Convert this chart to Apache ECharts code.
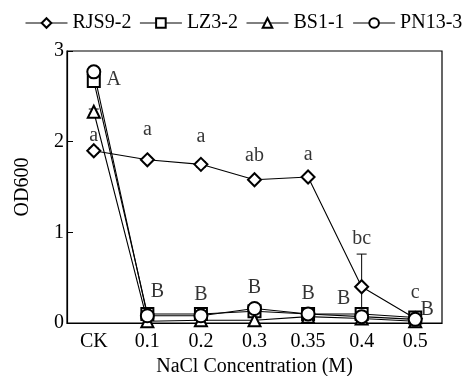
<!DOCTYPE html>
<html><head><meta charset="utf-8">
<script src="https://cdn.jsdelivr.net/npm/echarts@6/dist/echarts.min.js"></script>
<style>html,body{margin:0;padding:0;background:#fff}#c{width:471px;height:376px}</style>
</head><body><div id="c"></div>
<script>
const categories = ['CK','0.1','0.2','0.3','0.35','0.4','0.5'];
const seriesNames = ['RJS9-2','LZ3-2','BS1-1','PN13-3'];
const rjs = [1.90, 1.80, 1.75, 1.58, 1.61, 0.40, 0.05];
const lz = [2.67, 0.10, 0.10, 0.13, 0.10, 0.10, 0.06];
const bs = [2.33, 0.02, 0.03, 0.03, 0.07, 0.05, 0.02];
const pn = [2.77, 0.08, 0.08, 0.16, 0.10, 0.07, 0.04];
const rjsErr = [0.03, 0.02, 0.03, 0.02, 0.02, 0.36, 0.02];
const lzErr = [0.06, 0.03, 0.02, 0.03, 0.02, 0.02, 0.02];
const bsErr = [0.03, 0.02, 0.02, 0.03, 0.02, 0.02, 0.02];
const pnErr = [0.05, 0.03, 0.03, 0.03, 0.02, 0.02, 0.02];
const lowerLetters = ['a','a','a','ab','a','bc','c'];
const lowerLetterY = [2.06, 2.13, 2.05, 1.84, 1.86, 0.93, 0.33];
const upperLetters = ['A','B','B','B','B','B','B'];
const upperLetterY = [2.68, 0.34, 0.31, 0.39, 0.32, 0.27, 0.15];

const FONT = 'Liberation Serif';
const symbols = ['emptyDiamond','emptyRect','emptyTriangle','emptyCircle'];
const sizes = [13, 12, 12, 13];
const values = [rjs, lz, bs, pn];
const errs = [rjsErr, lzErr, bsErr, pnErr];
const txt = {fontFamily: FONT, fontSize: 20, color: '#000'};

const series = [];
values.forEach((v, i) => {
  series.push({
    name: seriesNames[i], type: 'line', data: v,
    symbol: symbols[i], symbolSize: sizes[i],
    lineStyle: {color: '#000', width: 1.1},
    itemStyle: {color: '#000', borderColor: '#000', borderWidth: 1.1},
    z: 3
  });
  series.push({
    type: 'custom', z: 2, silent: true,
    data: v.map((y, k) => [k, y - errs[i][k], y + errs[i][k]]),
    renderItem: (params, api) => {
      const x = api.value(0);
      const lo = api.coord([x, api.value(1)]);
      const hi = api.coord([x, api.value(2)]);
      const w = 5;
      return {type: 'group', children: [
        {type: 'line', shape: {x1: lo[0], y1: lo[1], x2: hi[0], y2: hi[1]}, style: {stroke: '#000', lineWidth: 1}},
        {type: 'line', shape: {x1: hi[0]-w, y1: hi[1], x2: hi[0]+w, y2: hi[1]}, style: {stroke: '#000', lineWidth: 1}},
        {type: 'line', shape: {x1: lo[0]-w, y1: lo[1], x2: lo[0]+w, y2: lo[1]}, style: {stroke: '#000', lineWidth: 1}}
      ]};
    }
  });
});
const upperOffsets = [[20,0],[10,0],[0,0],[0,0],[0,0],[-18,0],[12,0]];
series.push({
  type: 'scatter', symbolSize: 0, silent: true, z: 5,
  data: lowerLetterY.map((y, k) => ({value: [k, y], label: {formatter: lowerLetters[k]}})),
  label: Object.assign({show: true, position: 'inside'}, txt)
});
series.push({
  type: 'scatter', symbolSize: 0, silent: true, z: 5,
  data: upperLetterY.map((y, k) => ({value: [k, y], label: {formatter: upperLetters[k], offset: upperOffsets[k]}})),
  label: Object.assign({show: true, position: 'inside'}, txt)
});

const chart = echarts.init(document.getElementById('c'), null, {renderer: 'canvas'});
chart.setOption({
  animation: false,
  backgroundColor: '#fff',
  textStyle: {fontFamily: FONT, color: '#000'},
  legend: {
    data: seriesNames, orient: 'horizontal',
    top: 13, left: 25, width: 446, padding: 0, itemWidth: 42, itemHeight: 12, itemGap: 8,
    textStyle: txt,
    itemStyle: {borderWidth: 1},
    lineStyle: {width: 1}
  },
  grid: {left: 67, right: 29, top: 51, bottom: 53, show: true, borderColor: '#000', borderWidth: 1.2,
         backgroundColor: 'transparent', containLabel: false, outerBoundsMode: 'none'},
  xAxis: {
    type: 'category', data: categories, boundaryGap: true,
    name: 'NaCl Concentration (M)', nameLocation: 'middle', nameGap: 29,
    nameTextStyle: txt,
    axisLine: {lineStyle: {color: '#000', width: 1.2}},
    axisTick: {inside: true, length: 6, lineStyle: {color: '#000'}},
    axisLabel: Object.assign({margin: 9}, txt),
    splitLine: {show: false}
  },
  yAxis: {
    type: 'value', min: 0, max: 3, interval: 1,
    name: 'OD600', nameLocation: 'middle', nameGap: 34,
    nameTextStyle: txt,
    axisLine: {show: true, lineStyle: {color: '#000', width: 1.2}},
    axisTick: {show: true, inside: true, length: 6, lineStyle: {color: '#000'}},
    axisLabel: Object.assign({margin: 3}, txt),
    splitLine: {show: false}
  },
  series: series
});
</script></body></html>
